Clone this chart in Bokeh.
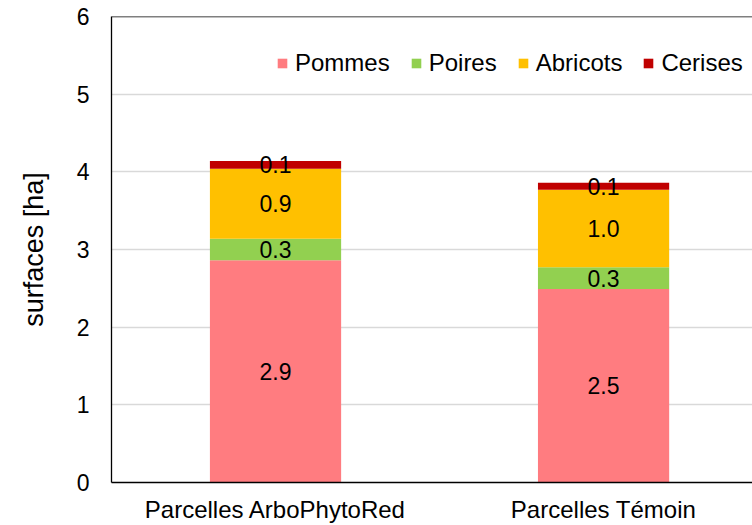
from bokeh.plotting import figure
from bokeh.models import ColumnDataSource, Range1d, FixedTicker, Legend, LegendItem, Span
from bokeh.core.properties import value
from bokeh.embed import file_html
from bokeh.resources import INLINE

categories = ["Parcelles ArboPhytoRed", "Parcelles Témoin"]
series = ["Pommes", "Poires", "Abricots", "Cerises"]
pommes = [2.86, 2.49]
poires = [0.28, 0.28]
abricots = [0.90, 1.00]
cerises = [0.10, 0.09]
colors = ["#FF7C80", "#92D050", "#FFC000", "#C00000"]
y_ticks = [0, 1, 2, 3, 4, 5, 6]

FONT = "Liberation Sans"
xs = [i + 0.5 for i in range(len(categories))]

p = figure(width=752, height=525, output_backend="svg", toolbar_location=None,
           x_range=Range1d(0, 1.954), y_range=Range1d(0, 6),
           min_border_left=111, min_border_right=0, min_border_top=16, min_border_bottom=40)
p.outline_line_color = None
p.background_fill_color = "white"
p.border_fill_color = "white"

data = dict(x=xs, Pommes=pommes, Poires=poires, Abricots=abricots, Cerises=cerises)
src = ColumnDataSource(data)
renderers = p.vbar_stack(series, x="x", width=0.4, source=src, color=colors, line_color=None)

# labels
bottoms = [0.0] * len(categories)
lx, ly, lt = [], [], []
for s in series:
    vals = data[s]
    for i, v in enumerate(vals):
        lx.append(xs[i])
        ly.append(bottoms[i] + v / 2)
        lt.append(f"{v:.1f}")
        bottoms[i] += v
p.text(x=lx, y=ly, text=lt, text_align="center", text_baseline="middle",
       text_font=value(FONT), text_font_size="23px", text_color="black")

# axes
p.xaxis.ticker = FixedTicker(ticks=xs)
p.xaxis.major_label_overrides = {x: c for x, c in zip(xs, categories)}
p.yaxis.ticker = FixedTicker(ticks=y_ticks)
for ax in (p.xaxis[0], p.yaxis[0]):
    ax.major_tick_line_color = None
    ax.minor_tick_line_color = None
    ax.axis_line_color = "black"
    ax.axis_line_width = 1.3
    ax.major_label_text_font = FONT
    ax.major_label_text_color = "black"
p.xaxis.major_label_text_font_size = "24px"
p.yaxis.major_label_text_font_size = "23px"
p.xaxis.major_label_standoff = 7
p.yaxis.major_label_standoff = 16
p.yaxis.axis_label = "surfaces [ha]"
p.yaxis.axis_label_text_font = FONT
p.yaxis.axis_label_text_font_size = "27px"
p.yaxis.axis_label_text_font_style = "normal"
p.yaxis.axis_label_text_color = "black"
p.yaxis.axis_label_standoff = 25

p.xgrid.grid_line_color = None
p.ygrid.ticker = FixedTicker(ticks=[1, 2, 3, 4, 5])
p.ygrid.grid_line_color = "#D9D9D9"
p.ygrid.grid_line_width = 1.3

top_line = Span(location=y_ticks[-1], dimension="width", line_color="black", line_width=1.3)
p.add_layout(top_line)

legend = Legend(items=[LegendItem(label=s, renderers=[r]) for s, r in zip(series, renderers)],
                orientation="horizontal", location=(165, 405),
                glyph_width=12, glyph_height=12, label_standoff=7, spacing=20,
                padding=0, margin=0, border_line_color=None, background_fill_alpha=0,
                label_text_font=FONT, label_text_font_size="24px", label_text_color="black")
p.add_layout(legend)

open("out.html", "w").write(file_html(p, INLINE))
